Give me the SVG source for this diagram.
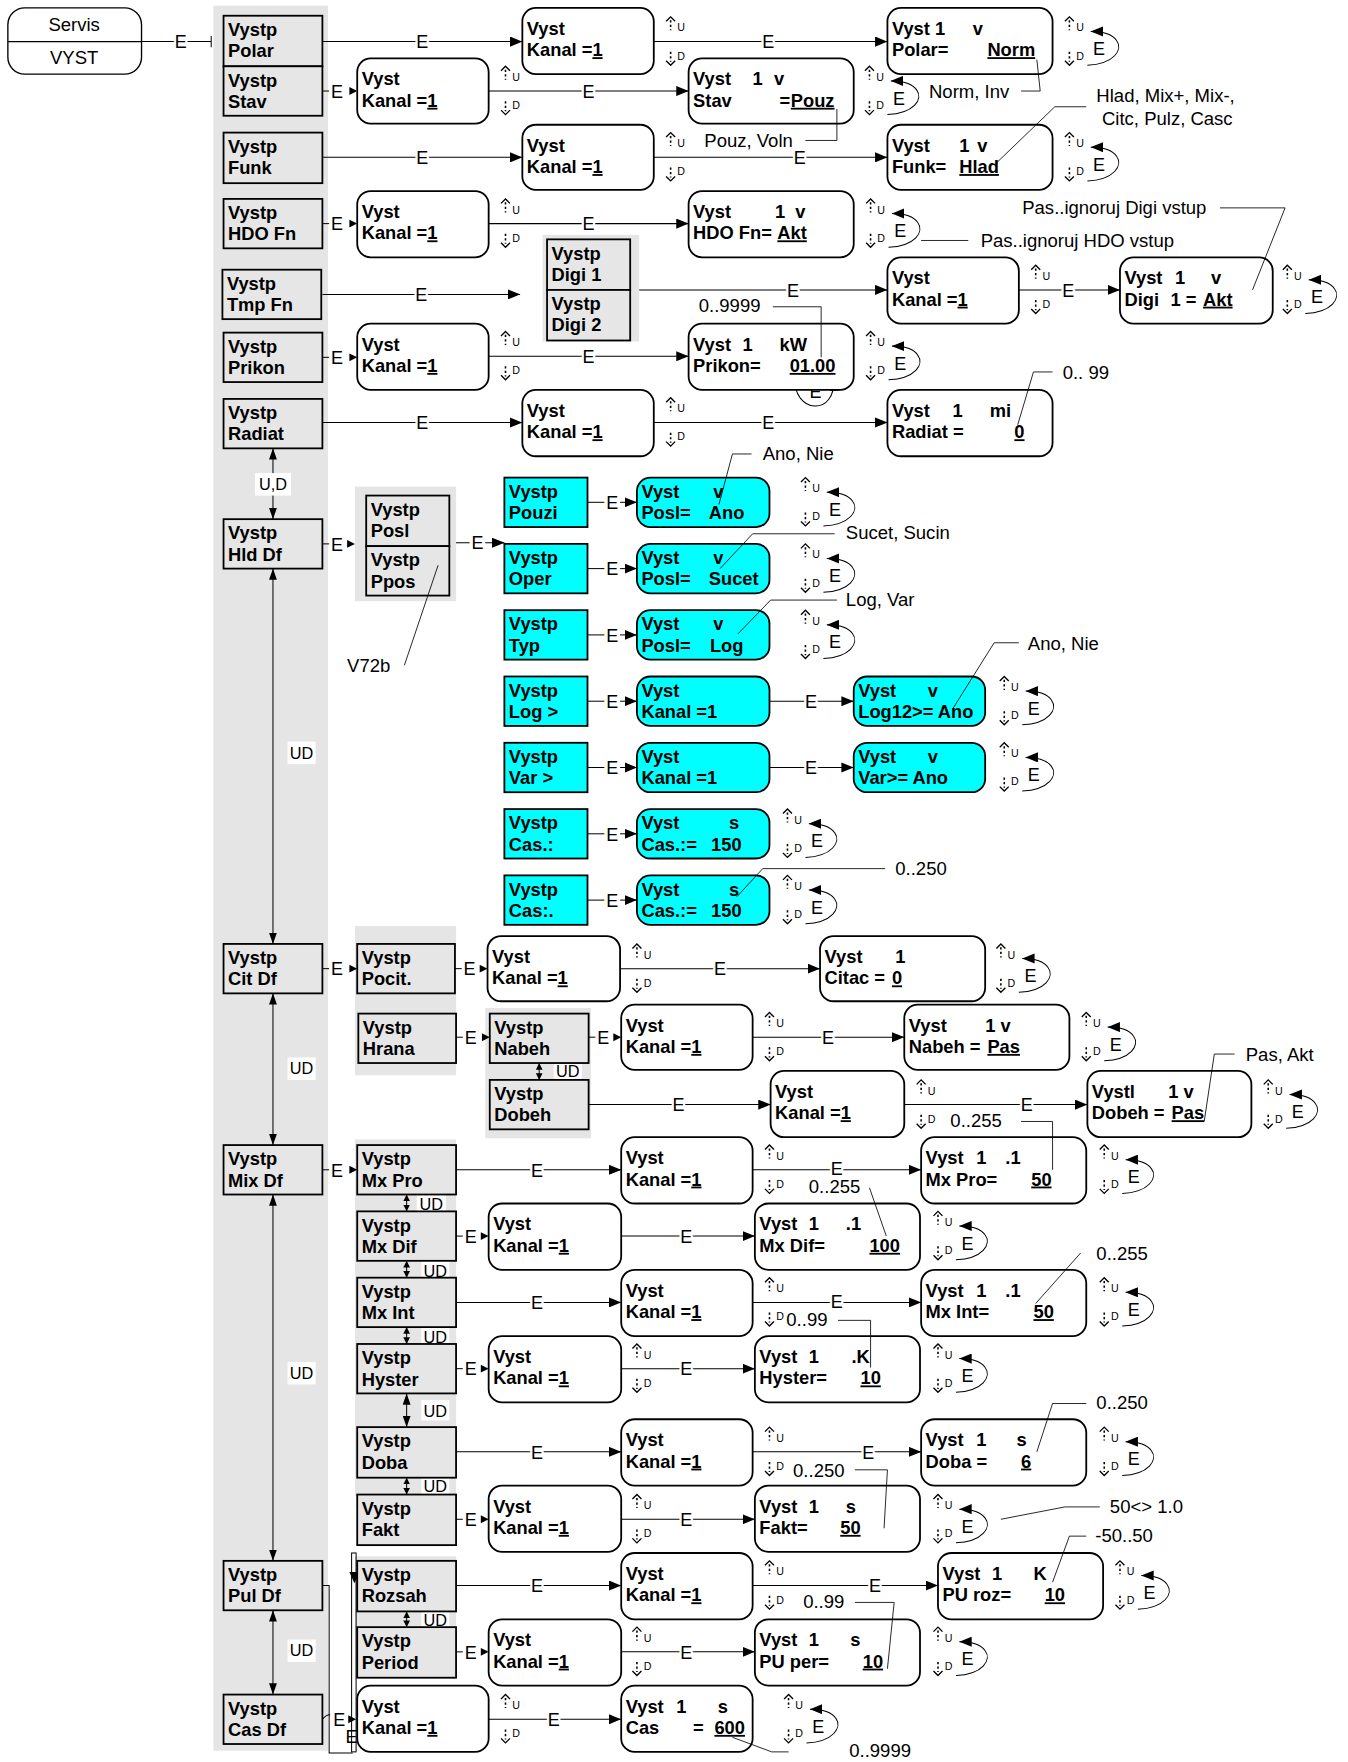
<svg xmlns="http://www.w3.org/2000/svg" width="1348" height="1762" viewBox="0 0 1348 1762">
<defs>
<style>
.t{font-family:"Liberation Sans",Arial,Helvetica,sans-serif;fill:#000}
.b{font-weight:bold;font-size:16.3px}
.n{font-size:16.5px}
.e{font-size:16px;text-anchor:middle;paint-order:stroke;stroke:#fff;stroke-width:4px;stroke-linejoin:round}
.u{font-size:9.5px}
.lb{font-size:14.5px;text-anchor:middle}
.ul{text-decoration:underline}
.bx{fill:#e6e6e6;stroke:#000;stroke-width:1.6}
.cy{fill:#00ffff;stroke:#000;stroke-width:1.6}
.rb{fill:#fff;stroke:#000;stroke-width:1.6}
.bg{fill:#e5e5e5}
.ln{stroke:#000;stroke-width:0.9;fill:none}
.ld{stroke:#000;stroke-width:0.75;fill:none}
.ds{stroke:#000;stroke-width:1.4;stroke-dasharray:2 2;fill:none}
.ch{stroke:#000;stroke-width:1.2;fill:none}
.wb{fill:#fff}
</style>
<marker id="a" viewBox="0 0 11 9" refX="11" refY="4.5" markerWidth="11" markerHeight="9" markerUnits="userSpaceOnUse" orient="auto"><path d="M0,0L11,4.5L0,9z"/></marker>
<marker id="v" viewBox="0 0 10 7" refX="10" refY="3.5" markerWidth="10" markerHeight="7" markerUnits="userSpaceOnUse" orient="auto-start-reverse"><path d="M0,0L10,3.5L0,7z"/></marker>
<marker id="s" viewBox="0 0 6 6" refX="6" refY="3" markerWidth="6" markerHeight="6" markerUnits="userSpaceOnUse" orient="auto-start-reverse"><path d="M0,0L6,3L0,6z"/></marker>
<g id="ud">
<path class="ds" d="M0,-19V-10M0,9V18"/>
<path class="ch" d="M-4,-18L0,-22L4,-18M-4,17L0,21L4,17"/>
<text class="t u" x="6" y="-9">U</text>
<text class="t u" x="6" y="16">D</text>
</g>
<g id="ue">
<use href="#ud"/>
<path class="ln" d="M16,21C40,20 48,7 42,-1C38,-7 31,-9 19,-9" marker-end="url(#a)"/>
<text class="t" x="21" y="12" style="font-size:16px">E</text>
</g>
</defs>
<rect x="0" y="0" width="1348" height="1762" fill="#fff"/>
<g transform="scale(1.12333 1.12372)">

<g id="backgrounds">
<rect class="bg" x="190" y="5" width="102" height="1553"/>
<rect class="bg" x="483" y="209" width="86" height="95"/>
<rect class="bg" x="316" y="433" width="90" height="102"/>
<rect class="bg" x="316" y="824" width="90" height="133"/>
<rect class="bg" x="432" y="897" width="94" height="116"/>
<rect class="bg" x="316" y="1014" width="90" height="317"/>
<rect class="bg" x="316" y="1385" width="90" height="109"/>
</g>

<g id="connectors">
<path class="ln" d="M126,37H188M188,32V42"/><text class="t e" x="161" y="43">E</text>
<!-- Polar -->
<line class="ln" x1="287" y1="37" x2="465" y2="37" marker-end="url(#a)"/><text class="t e" x="376" y="43">E</text>
<line class="ln" x1="582" y1="37" x2="790" y2="37" marker-end="url(#a)"/><text class="t e" x="684" y="43">E</text>
<!-- Stav -->
<path class="ln" d="M287,81H293"/><text class="t e" x="300" y="87">E</text><path d="M311,77.5L318,81L311,84.5z"/>
<line class="ln" x1="435" y1="81" x2="613" y2="81" marker-end="url(#a)"/><text class="t e" x="524" y="87">E</text>
<!-- Funk -->
<line class="ln" x1="287" y1="140" x2="465" y2="140" marker-end="url(#a)"/><text class="t e" x="376" y="146">E</text>
<line class="ln" x1="582" y1="140" x2="790" y2="140" marker-end="url(#a)"/><text class="t e" x="712" y="146">E</text>
<!-- HDO -->
<path class="ln" d="M287,199H293"/><text class="t e" x="300" y="205">E</text><path d="M311,195.5L318,199L311,202.5z"/>
<line class="ln" x1="435" y1="199" x2="613" y2="199" marker-end="url(#a)"/><text class="t e" x="524" y="205">E</text>
<!-- Tmp -->
<line class="ln" x1="287" y1="262" x2="463" y2="262" marker-end="url(#a)"/><text class="t e" x="375" y="268">E</text>
<line class="ln" x1="569" y1="258" x2="790" y2="258" marker-end="url(#a)"/><text class="t e" x="706" y="264">E</text>
<line class="ln" x1="907" y1="258" x2="997" y2="258" marker-end="url(#a)"/><text class="t e" x="951" y="264">E</text>
<!-- Prikon -->
<path class="ln" d="M287,318H293"/><text class="t e" x="300" y="324">E</text><path d="M311,314.5L318,318L311,321.5z"/>
<line class="ln" x1="435" y1="317" x2="613" y2="317" marker-end="url(#a)"/><text class="t e" x="524" y="323">E</text>
<path class="ln" d="M707,334C706,370 745,370 742,337" marker-end="url(#a)"/><text class="t" x="726" y="354" style="font-size:16px;text-anchor:middle;paint-order:stroke;stroke:#fff;stroke-width:2.5px">E</text>
<!-- Radiat -->
<line class="ln" x1="287" y1="376" x2="465" y2="376" marker-end="url(#a)"/><text class="t e" x="376" y="382">E</text>
<line class="ln" x1="582" y1="376" x2="790" y2="376" marker-end="url(#a)"/><text class="t e" x="684" y="382">E</text>
<!-- left verticals -->
<line class="ln" x1="243" y1="399" x2="243" y2="462" marker-start="url(#v)" marker-end="url(#v)"/>
<rect class="wb" x="227" y="421" width="32" height="20"/><text class="t lb" x="243" y="436">U,D</text>
<line class="ln" x1="243" y1="506" x2="243" y2="840" marker-start="url(#v)" marker-end="url(#v)"/>
<rect class="wb" x="256" y="660" width="25" height="20"/><text class="t lb" x="268.5" y="675">UD</text>
<line class="ln" x1="243" y1="884" x2="243" y2="1019" marker-start="url(#v)" marker-end="url(#v)"/>
<rect class="wb" x="256" y="941" width="25" height="20"/><text class="t lb" x="268.5" y="956">UD</text>
<line class="ln" x1="243" y1="1063" x2="243" y2="1389" marker-start="url(#v)" marker-end="url(#v)"/>
<rect class="wb" x="256" y="1212" width="25" height="20"/><text class="t lb" x="268.5" y="1227">UD</text>
<line class="ln" x1="243" y1="1433" x2="243" y2="1508" marker-start="url(#v)" marker-end="url(#v)"/>
<rect class="wb" x="256" y="1459" width="25" height="20"/><text class="t lb" x="268.5" y="1474">UD</text>
<!-- Hld Df -->
<path class="ln" d="M287,484H293"/><text class="t e" x="300" y="490">E</text><path d="M309,480.5L316,484L309,487.5z"/>
<path class="ln" d="M406,483H418"/><text class="t e" x="425" y="489">E</text>
<line class="ln" x1="432" y1="483" x2="449" y2="483" marker-end="url(#a)"/>
<!-- cyan rows -->
<path class="ln" d="M523,447H538"/><text class="t e" x="545" y="453">E</text><line class="ln" x1="552" y1="447" x2="567" y2="447" marker-end="url(#a)"/>
<path class="ln" d="M523,506H538"/><text class="t e" x="545" y="512">E</text><line class="ln" x1="552" y1="506" x2="567" y2="506" marker-end="url(#a)"/>
<path class="ln" d="M523,565H538"/><text class="t e" x="545" y="571">E</text><line class="ln" x1="552" y1="565" x2="567" y2="565" marker-end="url(#a)"/>
<path class="ln" d="M523,624H538"/><text class="t e" x="545" y="630">E</text><line class="ln" x1="552" y1="624" x2="567" y2="624" marker-end="url(#a)"/>
<path class="ln" d="M523,683H538"/><text class="t e" x="545" y="689">E</text><line class="ln" x1="552" y1="683" x2="567" y2="683" marker-end="url(#a)"/>
<path class="ln" d="M523,742H538"/><text class="t e" x="545" y="748">E</text><line class="ln" x1="552" y1="742" x2="567" y2="742" marker-end="url(#a)"/>
<path class="ln" d="M523,801H538"/><text class="t e" x="545" y="807">E</text><line class="ln" x1="552" y1="801" x2="567" y2="801" marker-end="url(#a)"/>
<line class="ln" x1="685" y1="624" x2="760" y2="624" marker-end="url(#a)"/><text class="t e" x="722" y="630">E</text>
<line class="ln" x1="685" y1="683" x2="760" y2="683" marker-end="url(#a)"/><text class="t e" x="722" y="689">E</text>
<!-- Cit -->
<path class="ln" d="M287,862H293"/><text class="t e" x="300" y="868">E</text><path d="M311,858.5L318,862L311,865.5z"/>
<path class="ln" d="M405,862H411"/><text class="t e" x="418" y="868">E</text><path d="M427,858.5L434,862L427,865.5z"/>
<line class="ln" x1="552" y1="862" x2="730" y2="862" marker-end="url(#a)"/><text class="t e" x="641" y="868">E</text>
<path class="ln" d="M406,923H412"/><text class="t e" x="419" y="929">E</text><path d="M429,919.5L436,923L429,926.5z"/>
<path class="ln" d="M524,923H530"/><text class="t e" x="537" y="929">E</text><path d="M546,919.5L553,923L546,926.5z"/>
<line class="ln" x1="670" y1="923" x2="805" y2="923" marker-end="url(#a)"/><text class="t e" x="737" y="929">E</text>
<line class="ln" x1="480" y1="946" x2="480" y2="961" marker-start="url(#s)" marker-end="url(#s)"/>
<rect class="wb" x="493" y="944" width="25" height="17"/><text class="t lb" x="505.5" y="958">UD</text>
<line class="ln" x1="524" y1="983" x2="686" y2="983" marker-end="url(#a)"/><text class="t e" x="604" y="989">E</text>
<line class="ln" x1="805" y1="983" x2="968" y2="983" marker-end="url(#a)"/><text class="t e" x="914" y="989">E</text>
<!-- Mix -->
<path class="ln" d="M287,1041H293"/><text class="t e" x="300" y="1047">E</text><path d="M311,1037.5L318,1041L311,1044.5z"/>
<line class="ln" x1="406" y1="1041" x2="553" y2="1041" marker-end="url(#a)"/><text class="t e" x="478" y="1047">E</text>
<line class="ln" x1="670" y1="1041" x2="820" y2="1041" marker-end="url(#a)"/><text class="t e" x="745" y="1046">E</text>
<line class="ln" x1="362" y1="1063" x2="362" y2="1078" marker-start="url(#s)" marker-end="url(#s)"/>
<rect class="wb" x="371" y="1063" width="26" height="16"/><text class="t lb" x="384" y="1077">UD</text>
<path class="ln" d="M406,1100H412"/><text class="t e" x="419" y="1106">E</text><path d="M428,1096.5L435,1100L428,1103.5z"/>
<line class="ln" x1="553" y1="1100" x2="672" y2="1100" marker-end="url(#a)"/><text class="t e" x="611" y="1106">E</text>
<line class="ln" x1="362" y1="1122" x2="362" y2="1137" marker-start="url(#s)" marker-end="url(#s)"/>
<rect class="wb" x="375" y="1122" width="25" height="16"/><text class="t lb" x="387.5" y="1136">UD</text>
<line class="ln" x1="406" y1="1159" x2="553" y2="1159" marker-end="url(#a)"/><text class="t e" x="478" y="1165">E</text>
<line class="ln" x1="670" y1="1159" x2="820" y2="1159" marker-end="url(#a)"/><text class="t e" x="745" y="1164">E</text>
<line class="ln" x1="362" y1="1181" x2="362" y2="1196" marker-start="url(#s)" marker-end="url(#s)"/>
<rect class="wb" x="375" y="1181" width="25" height="16"/><text class="t lb" x="387.5" y="1195">UD</text>
<path class="ln" d="M406,1218H412"/><text class="t e" x="419" y="1224">E</text><path d="M428,1214.5L435,1218L428,1221.5z"/>
<line class="ln" x1="553" y1="1218" x2="672" y2="1218" marker-end="url(#a)"/><text class="t e" x="611" y="1224">E</text>
<line class="ln" x1="362" y1="1240" x2="362" y2="1270" marker-start="url(#v)" marker-end="url(#v)"/>
<rect class="wb" x="375" y="1246" width="25" height="18"/><text class="t lb" x="387.5" y="1261">UD</text>
<line class="ln" x1="406" y1="1292" x2="553" y2="1292" marker-end="url(#a)"/><text class="t e" x="478" y="1298">E</text>
<line class="ln" x1="670" y1="1292" x2="820" y2="1292" marker-end="url(#a)"/><text class="t e" x="773" y="1298">E</text>
<line class="ln" x1="362" y1="1315" x2="362" y2="1330" marker-start="url(#s)" marker-end="url(#s)"/>
<rect class="wb" x="375" y="1314" width="25" height="17"/><text class="t lb" x="387.5" y="1328">UD</text>
<path class="ln" d="M406,1352H412"/><text class="t e" x="419" y="1358">E</text><path d="M428,1348.5L435,1352L428,1355.5z"/>
<line class="ln" x1="553" y1="1352" x2="672" y2="1352" marker-end="url(#a)"/><text class="t e" x="611" y="1358">E</text>
<!-- Pul -->
<line class="ln" x1="406" y1="1411" x2="553" y2="1411" marker-end="url(#a)"/><text class="t e" x="478" y="1417">E</text>
<line class="ln" x1="670" y1="1411" x2="835" y2="1411" marker-end="url(#a)"/><text class="t e" x="779" y="1417">E</text>
<line class="ln" x1="362" y1="1434" x2="362" y2="1448" marker-start="url(#s)" marker-end="url(#s)"/>
<rect class="wb" x="375" y="1433" width="25" height="16"/><text class="t lb" x="387.5" y="1447">UD</text>
<path class="ln" d="M406,1470H412"/><text class="t e" x="419" y="1476">E</text><path d="M428,1466.5L435,1470L428,1473.5z"/>
<line class="ln" x1="553" y1="1470" x2="672" y2="1470" marker-end="url(#a)"/><text class="t e" x="611" y="1476">E</text>
<path class="ln" d="M287,1411H293V1560H314"/>
<rect x="313" y="1382" width="4" height="177" fill="none" stroke="#000" stroke-width="0.9"/>
<path d="M311,1399L320,1399L315.5,1409z"/>
<text class="t" x="313" y="1551" style="font-size:16px;text-anchor:middle">E</text>
<!-- Cas -->
<path class="ln" d="M287,1530Q290,1526 294,1526"/><text class="t e" x="302" y="1536">E</text><path d="M310,1526.5L317,1530L310,1533.5z"/>
<line class="ln" x1="435" y1="1530" x2="553" y2="1530" marker-end="url(#a)"/><text class="t e" x="493" y="1536">E</text>
</g>

<g id="n-servis">
<rect class="rb" x="7" y="7" width="119" height="59" rx="15" style="stroke-width:1.2"/>
<line class="ln" x1="7" y1="37" x2="126" y2="37" style="stroke-width:1.2"/>
<text class="t n" x="66" y="28" text-anchor="middle">Servis</text>
<text class="t n" x="66" y="57" text-anchor="middle">VYST</text>
</g>

<!-- left column -->
<g id="n-polar"><rect class="bx" x="199" y="14" width="88" height="45"/><text class="t b" x="203" y="32">Vystp</text><text class="t b" x="203" y="51">Polar</text></g>
<g id="n-stav"><rect class="bx" x="199" y="59" width="88" height="44"/><text class="t b" x="203" y="77">Vystp</text><text class="t b" x="203" y="96">Stav</text></g>
<g id="n-funk"><rect class="bx" x="199" y="118" width="88" height="45"/><text class="t b" x="203" y="136">Vystp</text><text class="t b" x="203" y="155">Funk</text></g>
<g id="n-hdo"><rect class="bx" x="199" y="177" width="88" height="44"/><text class="t b" x="203" y="195">Vystp</text><text class="t b" x="203" y="214">HDO Fn</text></g>
<g id="n-tmp"><rect class="bx" x="198" y="240" width="88" height="44"/><text class="t b" x="202" y="258">Vystp</text><text class="t b" x="202" y="277">Tmp Fn</text></g>
<g id="n-prikon"><rect class="bx" x="199" y="296" width="88" height="44"/><text class="t b" x="203" y="314">Vystp</text><text class="t b" x="203" y="333">Prikon</text></g>
<g id="n-radiat"><rect class="bx" x="199" y="355" width="88" height="44"/><text class="t b" x="203" y="373">Vystp</text><text class="t b" x="203" y="392">Radiat</text></g>
<g id="n-hld"><rect class="bx" x="199" y="462" width="88" height="44"/><text class="t b" x="203" y="480">Vystp</text><text class="t b" x="203" y="499">Hld Df</text></g>
<g id="n-cit"><rect class="bx" x="199" y="840" width="88" height="44"/><text class="t b" x="203" y="858">Vystp</text><text class="t b" x="203" y="877">Cit Df</text></g>
<g id="n-mix"><rect class="bx" x="199" y="1019" width="88" height="44"/><text class="t b" x="203" y="1037">Vystp</text><text class="t b" x="203" y="1056">Mix Df</text></g>
<g id="n-pul"><rect class="bx" x="199" y="1389" width="88" height="44"/><text class="t b" x="203" y="1407">Vystp</text><text class="t b" x="203" y="1426">Pul Df</text></g>
<g id="n-casdf"><rect class="bx" x="199" y="1508" width="88" height="44"/><text class="t b" x="203" y="1526">Vystp</text><text class="t b" x="203" y="1545">Cas Df</text></g>

<!-- Polar row -->
<g id="n-k1"><rect class="rb" x="465" y="7" width="117" height="59" rx="12"/><text class="t b" x="469" y="31">Vyst</text><text class="t b" x="469" y="50">Kanal =<tspan class="ul">1</tspan></text><use href="#ud" x="597" y="37"/></g>
<g id="n-v1"><rect class="rb" x="790" y="7" width="147" height="59" rx="12"/><text class="t b" y="31"><tspan x="794">Vyst 1</tspan><tspan x="866">v</tspan></text><text class="t b" y="50"><tspan x="794">Polar=</tspan><tspan x="879" class="ul">Norm</tspan></text><use href="#ue" x="952" y="37"/></g>
<!-- Stav row -->
<g id="n-k2"><rect class="rb" x="318" y="52" width="117" height="58" rx="12"/><text class="t b" x="322" y="76">Vyst</text><text class="t b" x="322" y="95">Kanal =<tspan class="ul">1</tspan></text><use href="#ud" x="450" y="81"/></g>
<g id="n-v2"><rect class="rb" x="613" y="52" width="147" height="58" rx="12"/><text class="t b" y="76"><tspan x="617">Vyst</tspan><tspan x="670">1</tspan><tspan x="689">v</tspan></text><text class="t b" y="95"><tspan x="617">Stav</tspan><tspan x="694">=</tspan><tspan x="704" class="ul">Pouz</tspan></text><use href="#ue" x="774" y="81"/></g>
<!-- Funk row -->
<g id="n-k3"><rect class="rb" x="465" y="111" width="117" height="58" rx="12"/><text class="t b" x="469" y="135">Vyst</text><text class="t b" x="469" y="154">Kanal =<tspan class="ul">1</tspan></text><use href="#ud" x="597" y="140"/></g>
<g id="n-v3"><rect class="rb" x="790" y="111" width="147" height="58" rx="12"/><text class="t b" y="135"><tspan x="794">Vyst</tspan><tspan x="854">1</tspan><tspan x="870">v</tspan></text><text class="t b" y="154"><tspan x="794">Funk=</tspan><tspan x="854" class="ul">Hlad</tspan></text><use href="#ue" x="952" y="140"/></g>
<!-- HDO row -->
<g id="n-k4"><rect class="rb" x="318" y="170" width="117" height="59" rx="12"/><text class="t b" x="322" y="194">Vyst</text><text class="t b" x="322" y="213">Kanal =<tspan class="ul">1</tspan></text><use href="#ud" x="450" y="199"/></g>
<g id="n-v4"><rect class="rb" x="613" y="170" width="147" height="59" rx="12"/><text class="t b" y="194"><tspan x="617">Vyst</tspan><tspan x="690">1</tspan><tspan x="708">v</tspan></text><text class="t b" y="213"><tspan x="617">HDO Fn=</tspan><tspan x="692" class="ul">Akt</tspan></text><use href="#ue" x="775" y="199"/></g>
<!-- Tmp row -->
<g id="n-digi1"><rect class="bx" x="487" y="213" width="74" height="45"/><text class="t b" x="491" y="231">Vystp</text><text class="t b" x="491" y="250">Digi 1</text></g>
<g id="n-digi2"><rect class="bx" x="487" y="258" width="74" height="45"/><text class="t b" x="491" y="276">Vystp</text><text class="t b" x="491" y="295">Digi 2</text></g>
<g id="n-k5"><rect class="rb" x="790" y="229" width="117" height="59" rx="12"/><text class="t b" x="794" y="253">Vyst</text><text class="t b" x="794" y="272">Kanal =<tspan class="ul">1</tspan></text><use href="#ud" x="922" y="258"/></g>
<g id="n-v5"><rect class="rb" x="997" y="229" width="136" height="59" rx="12"/><text class="t b" y="253"><tspan x="1001">Vyst</tspan><tspan x="1046">1</tspan><tspan x="1078">v</tspan></text><text class="t b" y="272"><tspan x="1001">Digi</tspan><tspan x="1042">1 =</tspan><tspan x="1071" class="ul">Akt</tspan></text><use href="#ue" x="1146" y="258"/></g>
<!-- Prikon row -->
<g id="n-k6"><rect class="rb" x="318" y="288" width="117" height="59" rx="12"/><text class="t b" x="322" y="312">Vyst</text><text class="t b" x="322" y="331">Kanal =<tspan class="ul">1</tspan></text><use href="#ud" x="450" y="317"/></g>
<g id="n-v6"><rect class="rb" x="613" y="288" width="147" height="59" rx="12"/><text class="t b" y="312"><tspan x="617">Vyst</tspan><tspan x="661">1</tspan><tspan x="694">kW</tspan></text><text class="t b" y="331"><tspan x="617">Prikon=</tspan><tspan x="703" class="ul">01.00</tspan></text><use href="#ue" x="775" y="317"/></g>
<!-- Radiat row -->
<g id="n-k7"><rect class="rb" x="465" y="347" width="117" height="59" rx="12"/><text class="t b" x="469" y="371">Vyst</text><text class="t b" x="469" y="390">Kanal =<tspan class="ul">1</tspan></text><use href="#ud" x="597" y="376"/></g>
<g id="n-v7"><rect class="rb" x="790" y="347" width="147" height="59" rx="12"/><text class="t b" y="371"><tspan x="794">Vyst</tspan><tspan x="848">1</tspan><tspan x="881">mi</tspan></text><text class="t b" y="390"><tspan x="794">Radiat =</tspan><tspan x="903" class="ul">0</tspan></text></g>

<!-- Hld Df -->
<g id="n-posl"><rect class="bx" x="326" y="441" width="74" height="45"/><text class="t b" x="330" y="459">Vystp</text><text class="t b" x="330" y="478">Posl</text></g>
<g id="n-ppos"><rect class="bx" x="326" y="486" width="74" height="44"/><text class="t b" x="330" y="504">Vystp</text><text class="t b" x="330" y="523">Ppos</text></g>

<g id="n-pouzi"><rect class="cy" x="449" y="425" width="74" height="44"/><text class="t b" x="453" y="443">Vystp</text><text class="t b" x="453" y="462">Pouzi</text></g>
<g id="n-c1"><rect class="cy" x="567" y="425" width="118" height="44" rx="12"/><text class="t b" y="443"><tspan x="571">Vyst</tspan><tspan x="635">v</tspan></text><text class="t b" y="462"><tspan x="571">Posl=</tspan><tspan x="631">Ano</tspan></text><use href="#ue" x="717" y="447"/></g>
<g id="n-oper"><rect class="cy" x="449" y="484" width="74" height="44"/><text class="t b" x="453" y="502">Vystp</text><text class="t b" x="453" y="521">Oper</text></g>
<g id="n-c2"><rect class="cy" x="567" y="484" width="118" height="44" rx="12"/><text class="t b" y="502"><tspan x="571">Vyst</tspan><tspan x="635">v</tspan></text><text class="t b" y="521"><tspan x="571">Posl=</tspan><tspan x="631">Sucet</tspan></text><use href="#ue" x="717" y="506"/></g>
<g id="n-typ"><rect class="cy" x="449" y="543" width="74" height="44"/><text class="t b" x="453" y="561">Vystp</text><text class="t b" x="453" y="580">Typ</text></g>
<g id="n-c3"><rect class="cy" x="567" y="543" width="118" height="44" rx="12"/><text class="t b" y="561"><tspan x="571">Vyst</tspan><tspan x="635">v</tspan></text><text class="t b" y="580"><tspan x="571">Posl=</tspan><tspan x="632">Log</tspan></text><use href="#ue" x="717" y="565"/></g>
<g id="n-log"><rect class="cy" x="449" y="602" width="74" height="44"/><text class="t b" x="453" y="620">Vystp</text><text class="t b" x="453" y="639">Log &gt;</text></g>
<g id="n-c4"><rect class="cy" x="567" y="602" width="118" height="44" rx="12"/><text class="t b" x="571" y="620">Vyst</text><text class="t b" x="571" y="639">Kanal =1</text></g>
<g id="n-c4b"><rect class="cy" x="760" y="602" width="117" height="44" rx="12"/><text class="t b" y="620"><tspan x="764">Vyst</tspan><tspan x="826">v</tspan></text><text class="t b" x="764" y="639">Log12&gt;= Ano</text><use href="#ue" x="894" y="624"/></g>
<g id="n-var"><rect class="cy" x="449" y="661" width="74" height="44"/><text class="t b" x="453" y="679">Vystp</text><text class="t b" x="453" y="698">Var &gt;</text></g>
<g id="n-c5"><rect class="cy" x="567" y="661" width="118" height="44" rx="12"/><text class="t b" x="571" y="679">Vyst</text><text class="t b" x="571" y="698">Kanal =1</text></g>
<g id="n-c5b"><rect class="cy" x="760" y="661" width="117" height="44" rx="12"/><text class="t b" y="679"><tspan x="764">Vyst</tspan><tspan x="826">v</tspan></text><text class="t b" x="764" y="698">Var&gt;= Ano</text><use href="#ue" x="894" y="683"/></g>
<g id="n-cas1"><rect class="cy" x="449" y="720" width="74" height="44"/><text class="t b" x="453" y="738">Vystp</text><text class="t b" x="453" y="757">Cas.:</text></g>
<g id="n-c6"><rect class="cy" x="567" y="720" width="118" height="44" rx="12"/><text class="t b" y="738"><tspan x="571">Vyst</tspan><tspan x="649">s</tspan></text><text class="t b" y="757"><tspan x="571">Cas.:=</tspan><tspan x="633">150</tspan></text><use href="#ue" x="701" y="742"/></g>
<g id="n-cas2"><rect class="cy" x="449" y="779" width="74" height="44"/><text class="t b" x="453" y="797">Vystp</text><text class="t b" x="453" y="816">Cas:.</text></g>
<g id="n-c7"><rect class="cy" x="567" y="779" width="118" height="44" rx="12"/><text class="t b" y="797"><tspan x="571">Vyst</tspan><tspan x="649">s</tspan></text><text class="t b" y="816"><tspan x="571">Cas.:=</tspan><tspan x="633">150</tspan></text><use href="#ue" x="701" y="801"/></g>

<!-- Cit Df -->
<g id="n-pocit"><rect class="bx" x="318" y="840" width="87" height="44"/><text class="t b" x="322" y="858">Vystp</text><text class="t b" x="322" y="877">Pocit.</text></g>
<g id="n-hrana"><rect class="bx" x="319" y="902" width="87" height="44"/><text class="t b" x="323" y="920">Vystp</text><text class="t b" x="323" y="939">Hrana</text></g>
<g id="n-k8"><rect class="rb" x="434" y="833" width="118" height="58" rx="12"/><text class="t b" x="438" y="857">Vyst</text><text class="t b" x="438" y="876">Kanal =<tspan class="ul">1</tspan></text><use href="#ud" x="567" y="862"/></g>
<g id="n-v8"><rect class="rb" x="730" y="833" width="147" height="58" rx="12"/><text class="t b" y="857"><tspan x="734">Vyst</tspan><tspan x="797">1</tspan></text><text class="t b" y="876"><tspan x="734">Citac =</tspan><tspan x="794" class="ul">0</tspan></text><use href="#ue" x="891" y="862"/></g>
<g id="n-nabeh"><rect class="bx" x="436" y="902" width="88" height="44"/><text class="t b" x="440" y="920">Vystp</text><text class="t b" x="440" y="939">Nabeh</text></g>
<g id="n-dobeh"><rect class="bx" x="436" y="961" width="88" height="44"/><text class="t b" x="440" y="979">Vystp</text><text class="t b" x="440" y="998">Dobeh</text></g>
<g id="n-k9"><rect class="rb" x="553" y="894" width="117" height="58" rx="12"/><text class="t b" x="557" y="918">Vyst</text><text class="t b" x="557" y="937">Kanal =<tspan class="ul">1</tspan></text><use href="#ud" x="685" y="923"/></g>
<g id="n-v9"><rect class="rb" x="805" y="894" width="147" height="58" rx="12"/><text class="t b" y="918"><tspan x="809">Vyst</tspan><tspan x="877">1 v</tspan></text><text class="t b" y="937"><tspan x="809">Nabeh =</tspan><tspan x="879" class="ul">Pas</tspan></text><use href="#ue" x="967" y="923"/></g>
<g id="n-k10"><rect class="rb" x="686" y="953" width="119" height="59" rx="12"/><text class="t b" x="690" y="977">Vyst</text><text class="t b" x="690" y="996">Kanal =<tspan class="ul">1</tspan></text><use href="#ud" x="820" y="983"/></g>
<g id="n-v10"><rect class="rb" x="968" y="953" width="146" height="59" rx="12"/><text class="t b" y="977"><tspan x="972">Vystl</tspan><tspan x="1040">1 v</tspan></text><text class="t b" y="996"><tspan x="972">Dobeh =</tspan><tspan x="1043" class="ul">Pas</tspan></text><use href="#ue" x="1129" y="983"/></g>

<!-- Mix Df -->
<g id="n-mxpro"><rect class="bx" x="318" y="1019" width="88" height="44"/><text class="t b" x="322" y="1037">Vystp</text><text class="t b" x="322" y="1056">Mx Pro</text></g>
<g id="n-mxdif"><rect class="bx" x="318" y="1078" width="88" height="44"/><text class="t b" x="322" y="1096">Vystp</text><text class="t b" x="322" y="1115">Mx Dif</text></g>
<g id="n-mxint"><rect class="bx" x="318" y="1137" width="88" height="44"/><text class="t b" x="322" y="1155">Vystp</text><text class="t b" x="322" y="1174">Mx Int</text></g>
<g id="n-hyster"><rect class="bx" x="318" y="1196" width="88" height="44"/><text class="t b" x="322" y="1214">Vystp</text><text class="t b" x="322" y="1233">Hyster</text></g>
<g id="n-doba"><rect class="bx" x="318" y="1270" width="88" height="45"/><text class="t b" x="322" y="1288">Vystp</text><text class="t b" x="322" y="1307">Doba</text></g>
<g id="n-fakt"><rect class="bx" x="318" y="1330" width="88" height="45"/><text class="t b" x="322" y="1348">Vystp</text><text class="t b" x="322" y="1367">Fakt</text></g>
<g id="n-k11"><rect class="rb" x="553" y="1012" width="117" height="59" rx="12"/><text class="t b" x="557" y="1036">Vyst</text><text class="t b" x="557" y="1055">Kanal =<tspan class="ul">1</tspan></text><use href="#ud" x="685" y="1041"/></g>
<g id="n-v11"><rect class="rb" x="820" y="1012" width="147" height="59" rx="12"/><text class="t b" y="1036"><tspan x="824">Vyst</tspan><tspan x="869">1</tspan><tspan x="895">.1</tspan></text><text class="t b" y="1055"><tspan x="824">Mx Pro=</tspan><tspan x="918" class="ul">50</tspan></text><use href="#ue" x="983" y="1041"/></g>
<g id="n-k12"><rect class="rb" x="435" y="1071" width="118" height="59" rx="12"/><text class="t b" x="439" y="1095">Vyst</text><text class="t b" x="439" y="1114">Kanal =<tspan class="ul">1</tspan></text></g>
<g id="n-v12"><rect class="rb" x="672" y="1071" width="147" height="59" rx="12"/><text class="t b" y="1095"><tspan x="676">Vyst</tspan><tspan x="720">1</tspan><tspan x="753">.1</tspan></text><text class="t b" y="1114"><tspan x="676">Mx Dif=</tspan><tspan x="774" class="ul">100</tspan></text><use href="#ue" x="835" y="1100"/></g>
<g id="n-k13"><rect class="rb" x="553" y="1130" width="117" height="59" rx="12"/><text class="t b" x="557" y="1154">Vyst</text><text class="t b" x="557" y="1173">Kanal =<tspan class="ul">1</tspan></text><use href="#ud" x="685" y="1159"/></g>
<g id="n-v13"><rect class="rb" x="820" y="1130" width="147" height="59" rx="12"/><text class="t b" y="1154"><tspan x="824">Vyst</tspan><tspan x="869">1</tspan><tspan x="895">.1</tspan></text><text class="t b" y="1173"><tspan x="824">Mx Int=</tspan><tspan x="920" class="ul">50</tspan></text><use href="#ue" x="983" y="1159"/></g>
<g id="n-k14"><rect class="rb" x="435" y="1189" width="118" height="59" rx="12"/><text class="t b" x="439" y="1213">Vyst</text><text class="t b" x="439" y="1232">Kanal =<tspan class="ul">1</tspan></text><use href="#ud" x="567" y="1218"/></g>
<g id="n-v14"><rect class="rb" x="672" y="1189" width="147" height="59" rx="12"/><text class="t b" y="1213"><tspan x="676">Vyst</tspan><tspan x="720">1</tspan><tspan x="758">.K</tspan></text><text class="t b" y="1232"><tspan x="676">Hyster=</tspan><tspan x="766" class="ul">10</tspan></text><use href="#ue" x="835" y="1218"/></g>
<g id="n-k15"><rect class="rb" x="553" y="1263" width="117" height="59" rx="12"/><text class="t b" x="557" y="1287">Vyst</text><text class="t b" x="557" y="1306">Kanal =<tspan class="ul">1</tspan></text><use href="#ud" x="685" y="1292"/></g>
<g id="n-v15"><rect class="rb" x="820" y="1263" width="147" height="59" rx="12"/><text class="t b" y="1287"><tspan x="824">Vyst</tspan><tspan x="869">1</tspan><tspan x="905">s</tspan></text><text class="t b" y="1306"><tspan x="824">Doba =</tspan><tspan x="909" class="ul">6</tspan></text><use href="#ue" x="983" y="1292"/></g>
<g id="n-k16"><rect class="rb" x="435" y="1322" width="118" height="59" rx="12"/><text class="t b" x="439" y="1346">Vyst</text><text class="t b" x="439" y="1365">Kanal =<tspan class="ul">1</tspan></text><use href="#ud" x="567" y="1352"/></g>
<g id="n-v16"><rect class="rb" x="672" y="1322" width="147" height="59" rx="12"/><text class="t b" y="1346"><tspan x="676">Vyst</tspan><tspan x="720">1</tspan><tspan x="753">s</tspan></text><text class="t b" y="1365"><tspan x="676">Fakt=</tspan><tspan x="748" class="ul">50</tspan></text><use href="#ue" x="835" y="1352"/></g>

<!-- Pul Df -->
<g id="n-rozsah"><rect class="bx" x="318" y="1389" width="88" height="45"/><text class="t b" x="322" y="1407">Vystp</text><text class="t b" x="322" y="1426">Rozsah</text></g>
<g id="n-period"><rect class="bx" x="318" y="1448" width="88" height="45"/><text class="t b" x="322" y="1466">Vystp</text><text class="t b" x="322" y="1485">Period</text></g>
<g id="n-k17"><rect class="rb" x="553" y="1382" width="117" height="59" rx="12"/><text class="t b" x="557" y="1406">Vyst</text><text class="t b" x="557" y="1425">Kanal =<tspan class="ul">1</tspan></text><use href="#ud" x="685" y="1411"/></g>
<g id="n-v17"><rect class="rb" x="835" y="1382" width="147" height="59" rx="12"/><text class="t b" y="1406"><tspan x="839">Vyst</tspan><tspan x="883">1</tspan><tspan x="920">K</tspan></text><text class="t b" y="1425"><tspan x="839">PU roz=</tspan><tspan x="930" class="ul">10</tspan></text><use href="#ue" x="997" y="1411"/></g>
<g id="n-k18"><rect class="rb" x="435" y="1441" width="118" height="59" rx="12"/><text class="t b" x="439" y="1465">Vyst</text><text class="t b" x="439" y="1484">Kanal =<tspan class="ul">1</tspan></text><use href="#ud" x="567" y="1470"/></g>
<g id="n-v18"><rect class="rb" x="672" y="1441" width="147" height="59" rx="12"/><text class="t b" y="1465"><tspan x="676">Vyst</tspan><tspan x="720">1</tspan><tspan x="757">s</tspan></text><text class="t b" y="1484"><tspan x="676">PU per=</tspan><tspan x="768" class="ul">10</tspan></text><use href="#ue" x="835" y="1470"/></g>
<!-- Cas Df -->
<g id="n-k19"><rect class="rb" x="318" y="1500" width="117" height="59" rx="12"/><text class="t b" x="322" y="1524">Vyst</text><text class="t b" x="322" y="1543">Kanal =<tspan class="ul">1</tspan></text><use href="#ud" x="450" y="1530"/></g>
<g id="n-v19"><rect class="rb" x="553" y="1500" width="117" height="59" rx="12"/><text class="t b" y="1524"><tspan x="557">Vyst</tspan><tspan x="602">1</tspan><tspan x="639">s</tspan></text><text class="t b" y="1543"><tspan x="557">Cas</tspan><tspan x="617">=</tspan><tspan x="636" class="ul">600</tspan></text><use href="#ue" x="702" y="1530"/></g>

<g id="notes">
<text class="t n" x="827" y="87">Norm, Inv</text><path class="ld" d="M909,81H926L923,53"/>
<text class="t n" x="976" y="91">Hlad, Mix+, Mix-,</text><text class="t n" x="981" y="111">Citc, Pulz, Casc</text><path class="ld" d="M967,95H939L886,146"/>
<text class="t n" x="627" y="131">Pouz, Voln</text><path class="ld" d="M717,125H745V97"/>
<text class="t n" x="910" y="190">Pas..ignoruj Digi vstup</text><path class="ld" d="M1086,185H1144L1115,258"/>
<text class="t n" x="873" y="220">Pas..ignoruj HDO vstup</text><path class="ld" d="M820,214H862"/>
<text class="t n" x="622" y="278">0..9999</text><path class="ld" d="M688,273H731V318"/>
<text class="t n" x="946" y="337">0.. 99</text><path class="ld" d="M937,331H920L906,378"/>
<text class="t n" x="679" y="409">Ano, Nie</text><path class="ld" d="M669,404H652L640,449"/>
<text class="t n" x="753" y="480">Sucet, Sucin</text><path class="ld" d="M743,475H670L641,506"/>
<text class="t n" x="753" y="539">Log, Var</text><path class="ld" d="M745,534H686L657,564"/>
<text class="t n" x="915" y="578">Ano, Nie</text><path class="ld" d="M907,572H885L848,631"/>
<text class="t n" x="797" y="779">0..250</text><path class="ld" d="M788,773H679L656,798"/>
<text class="t n" x="1109" y="944">Pas, Akt</text><path class="ld" d="M1099,938H1081L1072,998"/>
<text class="t n" x="846" y="1003">0..255</text><path class="ld" d="M909,998H937V1041"/>
<text class="t n" x="720" y="1062">0..255</text><path class="ld" d="M774,1057L789,1100"/>
<text class="t n" x="976" y="1121">0..255</text><path class="ld" d="M962,1115L922,1160"/>
<text class="t n" x="700" y="1180">0..99</text><path class="ld" d="M746,1175H775V1217"/>
<text class="t n" x="976" y="1254">0..250</text><path class="ld" d="M967,1249H937L923,1292"/>
<text class="t n" x="706" y="1314">0..250</text><path class="ld" d="M761,1308H790L787,1360"/>
<text class="t n" x="988" y="1346">50&lt;&gt; 1.0</text><path class="ld" d="M979,1341H948L891,1352"/>
<text class="t n" x="975" y="1372">-50..50</text><path class="ld" d="M967,1367H952L937,1408"/>
<text class="t n" x="715" y="1431">0..99</text><path class="ld" d="M761,1426H796L790,1485"/>
<text class="t n" x="756" y="1564">0..9999</text><path class="ld" d="M652,1546L687,1559H702"/>
<text class="t n" x="309" y="598">V72b</text><path class="ld" d="M360,592L390,503"/>
</g>
</g>
</svg>
